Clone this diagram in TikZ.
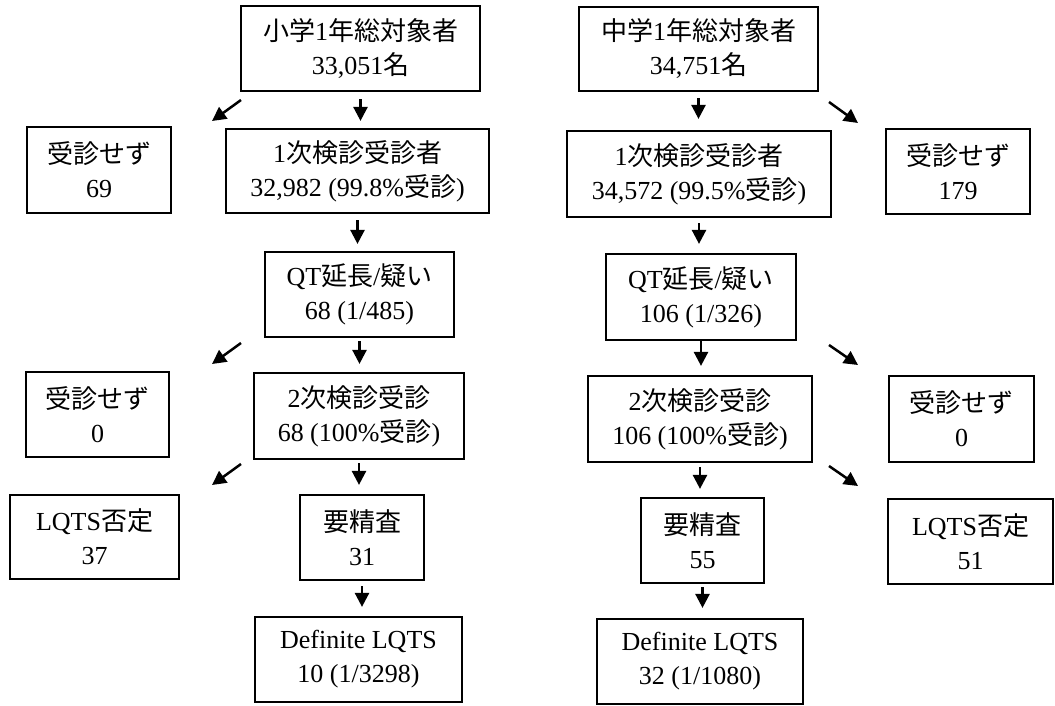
\documentclass[tikz,border=0pt]{standalone}
\usepackage{fontspec}
\setmainfont{Liberation Serif}
\newfontfamily\jpfont{Noto Sans CJK JP}
\newcommand{\J}[1]{{\jpfont #1}}
\usetikzlibrary{arrows.meta}
\tikzset{
  box/.style={draw=black, line width=2.2pt, align=center, inner sep=0pt,
    font=\fontsize{26}{34}\selectfont},
  arr/.style={line width=2.5pt, -{Triangle[length=14pt,width=14pt]}},
}
\newcommand{\bx}[6]{\node[box, minimum width=#4pt, minimum height=#5pt] (#1) at (#2,#3) {#6};}
\begin{document}
\begin{tikzpicture}[x=1pt,y=-1pt]
\useasboundingbox[fill=white] (0,0) rectangle (1055,705);
% left column
\bx{A}{360.5}{48.5}{239}{85}{\J{小学}1\J{年総対象者}\\33,051\J{名}}
\bx{B}{99}{170}{144}{86}{\J{受診せず}\\69}
\bx{C}{357.5}{171}{263}{84}{1\J{次検診受診者}\\32,982 (99.8\%\J{受診})}
\bx{D}{359.5}{294.5}{189}{85}{QT\J{延長}/\J{疑い}\\68 (1/485)}
\bx{E}{97.5}{414.5}{143}{85}{\J{受診せず}\\0}
\bx{F}{359}{416}{210}{86}{2\J{次検診受診}\\68 (100\%\J{受診})}
\bx{G}{94.5}{537}{169}{84}{LQTS\J{否定}\\37}
\bx{H}{362}{537.5}{124}{85}{\J{要精査}\\31}
\bx{I}{358.5}{659.5}{207}{85}{Definite LQTS\\10 (1/3298)}
% right column
\bx{A2}{698.5}{49}{239}{84}{\J{中学}1\J{年総対象者}\\34,751\J{名}}
\bx{B2}{958}{171.5}{144}{85}{\J{受診せず}\\179}
\bx{C2}{699}{174}{264}{86}{1\J{次検診受診者}\\34,572 (99.5\%\J{受診})}
\bx{D2}{701}{297}{190}{86}{QT\J{延長}/\J{疑い}\\106 (1/326)}
\bx{E2}{961.5}{419}{145}{86}{\J{受診せず}\\0}
\bx{F2}{700}{419}{224}{86}{2\J{次検診受診}\\106 (100\%\J{受診})}
\bx{G2}{970.5}{541.5}{165}{85}{LQTS\J{否定}\\51}
\bx{H2}{702.5}{540.5}{123}{85}{\J{要精査}\\55}
\bx{I2}{700}{661.5}{206}{85}{Definite LQTS\\32 (1/1080)}
% vertical arrows
\draw[arr, shorten <=7pt, shorten >=7pt] (A.south) -- (A.south |- C.north);
\draw[arr, shorten <=6pt, shorten >=7pt] (C.south) -- (C.south |- D.north);
\draw[arr, shorten <=3pt, shorten >=8pt] (D.south) -- (D.south |- F.north);
\draw[arr, shorten <=3pt, shorten >=9pt] (F.south) -- (F.south |- H.north);
\draw[arr, shorten <=5pt, shorten >=9pt] (H.south) -- (H.south |- I.north);
\draw[arr, shorten <=6pt, shorten >=11pt] (A2.south) -- (A2.south |- C2.north);
\draw[arr, shorten <=5pt, shorten >=9pt] (C2.south) -- (C2.south |- D2.north);
\draw[arr, shorten <=0pt, shorten >=9pt] (D2.south) -- (D2.south |- F2.north);
\draw[arr, shorten <=4pt, shorten >=8pt] (F2.south) -- (F2.south |- H2.north);
\draw[arr, shorten <=3pt, shorten >=10pt] (H2.south) -- (H2.south |- I2.north);
% diagonal arrows
\coordinate (l1s) at (241,100); \coordinate (l1e) at (212,121);
\coordinate (l2s) at (241,343); \coordinate (l2e) at (212,364);
\coordinate (l3s) at (241,464); \coordinate (l3e) at (212,485);
\coordinate (r1s) at (829,102); \coordinate (r1e) at (858,123);
\coordinate (r2s) at (829,345); \coordinate (r2e) at (858,365);
\coordinate (r3s) at (829,466); \coordinate (r3e) at (858,486);
\draw[arr] (l1s) -- (l1e);
\draw[arr] (l2s) -- (l2e);
\draw[arr] (l3s) -- (l3e);
\draw[arr] (r1s) -- (r1e);
\draw[arr] (r2s) -- (r2e);
\draw[arr] (r3s) -- (r3e);
\end{tikzpicture}
\end{document}
